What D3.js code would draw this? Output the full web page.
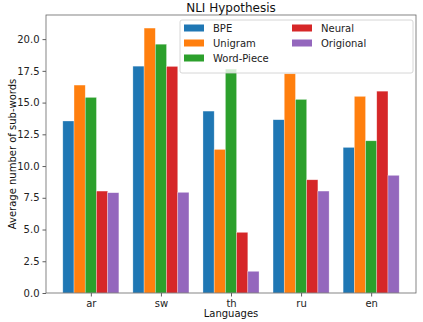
<!DOCTYPE html>
<html><head><meta charset="utf-8">
<script src="https://cdn.jsdelivr.net/npm/d3@7"></script>
<style>body{margin:0;background:#fff}svg{display:block;font-family:"DejaVu Sans",sans-serif}</style>
</head><body><svg id="c" width="423" height="322"></svg>
<script>
const languages = ["ar","sw","th","ru","en"];
const seriesNames = ["BPE","Unigram","Word-Piece","Neural","Origional"];
const colors = ["#1f77b4","#ff7f0e","#2ca02c","#d62728","#9467bd"];
const BPE = [13.55, 17.87, 14.33, 13.65, 11.47];
const Unigram = [16.38, 20.87, 11.31, 17.27, 15.49];
const WordPiece = [15.41, 19.6, 17.64, 15.25, 11.99];
const Neural = [8.03, 17.85, 4.78, 8.92, 15.9];
const Origional = [7.9, 7.93, 1.71, 8.03, 9.27];
const yTicks = [0, 2.5, 5, 7.5, 10, 12.5, 15, 17.5, 20];
const series = [BPE, Unigram, WordPiece, Neural, Origional];

const svg = d3.select("#c");
const L = 46, R = 416, T = 15, B = 293;
const x = d3.scaleLinear().domain([-0.64, 4.64]).range([L, R]);
const y = d3.scaleLinear().domain([0, 21.9]).range([B, T]);
const bw = 0.16;

series.forEach((vals, si) => {
  svg.append("g").selectAll("rect").data(vals).join("rect")
    .attr("x", (d, i) => x(i - 0.4 + si * bw))
    .attr("width", x(bw) - x(0))
    .attr("y", d => y(d))
    .attr("height", d => y(0) - y(d))
    .attr("fill", colors[si])
    .attr("stroke", "rgba(255,255,255,0.5)")
    .attr("stroke-width", 0.6);
});

// axes
const yAxis = d3.axisLeft(y).tickValues(yTicks).tickFormat(d3.format(".1f")).tickSize(3.5).tickPadding(3);
const gy = svg.append("g").attr("transform", `translate(${L},0)`).call(yAxis);
const xAxis = d3.axisBottom(x).tickValues(d3.range(languages.length)).tickFormat(i => languages[i]).tickSize(3.5).tickPadding(3);
const gx = svg.append("g").attr("transform", `translate(0,${B})`).call(xAxis);
[gx, gy].forEach(g => {
  g.select(".domain").remove();
  g.selectAll("line").attr("stroke", "#333").attr("stroke-width", 0.8);
  g.selectAll("text").attr("font-size", 10).attr("fill", "#222").attr("font-family", "DejaVu Sans");
});
svg.append("rect").attr("x", L).attr("y", T).attr("width", R - L).attr("height", B - T)
  .attr("fill", "none").attr("stroke", "#666").attr("stroke-width", 0.8);

svg.append("text").attr("x", (L + R) / 2).attr("y", 12).attr("text-anchor", "middle")
  .attr("font-size", 12).attr("fill", "#111").text("NLI Hypothesis");
svg.append("text").attr("x", (L + R) / 2).attr("y", 316.5).attr("text-anchor", "middle")
  .attr("font-size", 10).attr("fill", "#111").text("Languages");
svg.append("text").attr("transform", `translate(16,${(T + B) / 2}) rotate(-90)`).attr("text-anchor", "middle")
  .attr("font-size", 10).attr("fill", "#111").text("Average number of sub-words");

// legend
const lg = svg.append("g");
lg.append("rect").attr("x", 180).attr("y", 20).attr("width", 233).attr("height", 53)
  .attr("rx", 2).attr("fill", "rgba(255,255,255,0.8)").attr("stroke", "#ccc").attr("stroke-width", 0.8);
seriesNames.forEach((name, i) => {
  const col = i < 3 ? 0 : 1, row = i < 3 ? i : i - 3;
  const px = col === 0 ? 184 : 292, py = 28 + row * 15;
  lg.append("rect").attr("x", px).attr("y", py - 3.5).attr("width", 20).attr("height", 7).attr("fill", colors[i]);
  lg.append("text").attr("x", px + 29).attr("y", py + 3.6).attr("font-size", 10).attr("fill", "#222").text(name);
});
</script></body></html>
